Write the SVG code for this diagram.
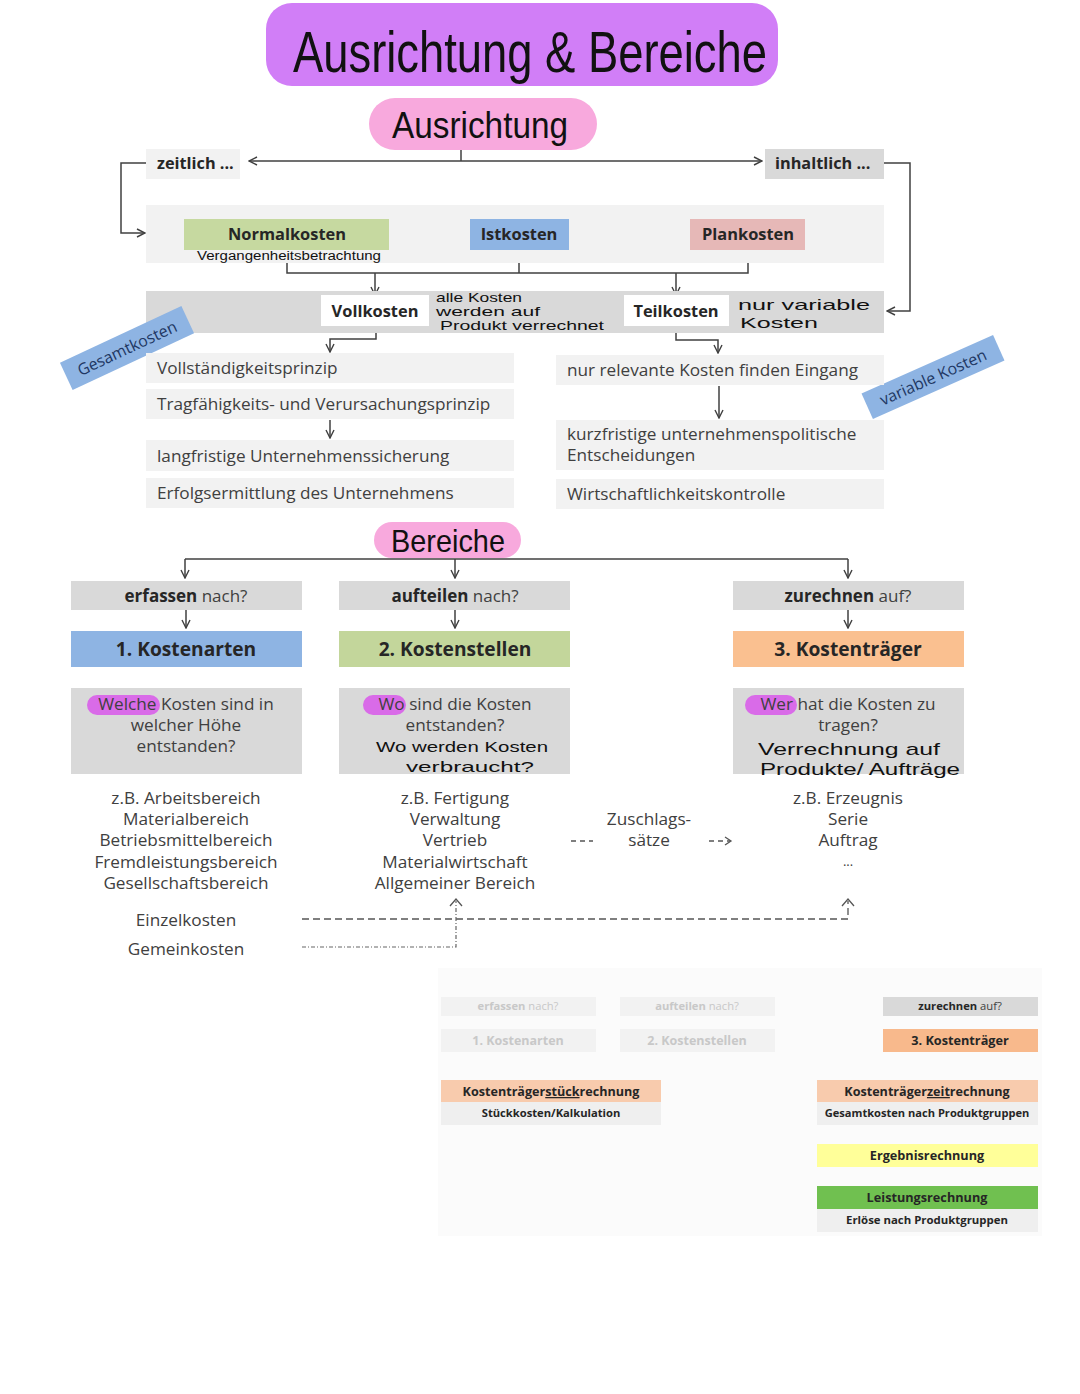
<svg xmlns="http://www.w3.org/2000/svg" width="1080" height="1394" viewBox="0 0 1080 1394">
<defs>
<marker id="ah" viewBox="0 0 10 10" refX="9" refY="5" markerWidth="10" markerHeight="10" markerUnits="userSpaceOnUse" orient="auto"><path d="M1,1 L9,5 L1,9" fill="none" stroke="#404040" stroke-width="1.4"/></marker>
<marker id="ahs" viewBox="0 0 10 10" refX="9" refY="5" markerWidth="8" markerHeight="8" markerUnits="userSpaceOnUse" orient="auto"><path d="M1,1 L9,5 L1,9" fill="none" stroke="#606060" stroke-width="1.4"/></marker>
</defs>
<style>
.t{font-family:"Open Sans","Liberation Sans",sans-serif;fill:#404040}
.b{font-weight:bold;fill:#262626}
.c{text-anchor:middle}
.hw{font-family:"Liberation Sans","DejaVu Sans",sans-serif;fill:#111}
.ln{fill:none;stroke:#404040;stroke-width:1.5}
.lg{fill:#f2f2f2}
.dg{fill:#d9d9d9}
.s{font-size:11.2px}
</style>
<rect width="1080" height="1394" fill="#ffffff"/>

<g id="title">
<rect x="266" y="3" width="512" height="83" rx="26" fill="#d17ef7"/>
<text class="hw" x="293" y="72" font-size="58" textLength="474" lengthAdjust="spacingAndGlyphs">Ausrichtung &amp; Bereiche</text>
</g>
<g id="ausrichtung">
<rect x="369" y="98" width="228" height="52" rx="26" fill="#f8a9dd"/>
<text class="hw" x="392" y="138" font-size="36" textLength="176" lengthAdjust="spacingAndGlyphs">Ausrichtung</text>
</g>

<g id="connectors">
<path class="ln" d="M461,150 V161"/>
<path class="ln" d="M461,161 H249" marker-end="url(#ah)"/>
<path class="ln" d="M461,161 H762" marker-end="url(#ah)"/>
<path class="ln" d="M146,163 H121 V233 H145" marker-end="url(#ah)"/>
<path class="ln" d="M884,163 H910 V311 H887" marker-end="url(#ah)"/>
<path class="ln" d="M287,250 V273 H748 V250 M519,250 V273"/>
<path class="ln" d="M375,273 V295" marker-end="url(#ah)"/>
<path class="ln" d="M676,273 V295" marker-end="url(#ah)"/>
<path class="ln" d="M376,326 V339 H330 V352" marker-end="url(#ah)"/>
<path class="ln" d="M676,326 V340 H718 V353" marker-end="url(#ah)"/>
<path class="ln" d="M330,420 V438" marker-end="url(#ah)"/>
<path class="ln" d="M719,386 V418" marker-end="url(#ah)"/>
<path class="ln" d="M185,559 H848"/>
<path class="ln" d="M185,559 V578" marker-end="url(#ah)"/>
<path class="ln" d="M455,559 V578" marker-end="url(#ah)"/>
<path class="ln" d="M848,559 V578" marker-end="url(#ah)"/>
<path class="ln" d="M186,610 V628" marker-end="url(#ah)"/>
<path class="ln" d="M455,610 V628" marker-end="url(#ah)"/>
<path class="ln" d="M848,610 V628" marker-end="url(#ah)"/>
<path fill="none" stroke="#555" stroke-width="1.3" stroke-dasharray="7,4" d="M302,919 H848 V901"/>
<path fill="none" stroke="#555" stroke-width="1.3" d="M842,906 L848,899 L854,906"/>
<path fill="none" stroke="#666" stroke-width="1.2" stroke-dasharray="4,2,1,2" d="M302,947 H456 V901"/>
<path fill="none" stroke="#555" stroke-width="1.3" d="M450,906 L456,899 L462,906"/>
<path fill="none" stroke="#555" stroke-width="1.3" stroke-dasharray="5,4" d="M571,841 H593"/>
<path fill="none" stroke="#555" stroke-width="1.3" stroke-dasharray="5,4" d="M709,841 H730"/>
<path fill="none" stroke="#555" stroke-width="1.3" d="M725,837 L731,841 L725,845"/>
<path fill="none" stroke="#606060" stroke-width="1.2" d="M518,983 H960 M659,979 V983"/>
<path fill="none" stroke="#606060" stroke-width="1.2" d="M518,983 V996" marker-end="url(#ahs)"/>
<path fill="none" stroke="#606060" stroke-width="1.2" d="M697,983 V996" marker-end="url(#ahs)"/>
<path fill="none" stroke="#606060" stroke-width="1.2" d="M960,983 V996" marker-end="url(#ahs)"/>
<path fill="none" stroke="#606060" stroke-width="1.2" d="M518,1017 V1028" marker-end="url(#ahs)"/>
<path fill="none" stroke="#606060" stroke-width="1.2" d="M697,1017 V1028" marker-end="url(#ahs)"/>
<path fill="none" stroke="#606060" stroke-width="1.2" d="M960,1017 V1028" marker-end="url(#ahs)"/>
<path fill="none" stroke="#606060" stroke-width="1.2" d="M960,1052 V1066 H551"/>
<path fill="none" stroke="#606060" stroke-width="1.2" d="M551,1066 V1079" marker-end="url(#ahs)"/>
<path fill="none" stroke="#606060" stroke-width="1.2" d="M927,1066 V1079" marker-end="url(#ahs)"/>
<path fill="none" stroke="#606060" stroke-width="1.2" d="M927,1126 V1143" marker-end="url(#ahs)"/>
<path fill="none" stroke="#606060" stroke-width="1.2" d="M927,1185 V1168" marker-end="url(#ahs)"/>
</g>

<g id="zeitlich"><rect class="lg" x="146" y="149" width="94" height="30"/><text class="t b" x="157" y="169" font-size="16.3">zeitlich ...</text></g>
<g id="inhaltlich"><rect class="dg" x="765" y="149" width="119" height="30"/><text class="t b" x="775" y="169" font-size="16.3">inhaltlich ...</text></g>

<g id="kostenband"><rect x="146" y="205" width="738" height="58" fill="#f2f2f2"/></g>
<g id="normalkosten"><rect x="184" y="219" width="205" height="31" fill="#c6d9a0"/><text class="t b c" x="287" y="240" font-size="16.4">Normalkosten</text>
<text class="hw" x="197" y="260" font-size="12" textLength="184" lengthAdjust="spacingAndGlyphs">Vergangenheitsbetrachtung</text></g>
<g id="istkosten"><rect x="470" y="219" width="99" height="31" fill="#8eb4e3"/><text class="t b c" x="519" y="240" font-size="16.4">Istkosten</text></g>
<g id="plankosten"><rect x="690" y="219" width="115" height="31" fill="#e6b8b7"/><text class="t b c" x="748" y="240" font-size="16.4">Plankosten</text></g>

<g id="vollteilband"><rect x="146" y="291" width="738" height="42" fill="#d9d9d9"/></g>
<g id="vollkosten"><rect x="321" y="295" width="108" height="31" fill="#ffffff"/><text class="t b c" x="375" y="317" font-size="16.4">Vollkosten</text>
<text class="hw" x="436" y="302" font-size="13" textLength="86" lengthAdjust="spacingAndGlyphs">alle Kosten</text>
<text class="hw" x="436" y="316" font-size="13" textLength="104" lengthAdjust="spacingAndGlyphs">werden auf</text>
<text class="hw" x="440" y="330" font-size="13" textLength="164" lengthAdjust="spacingAndGlyphs">Produkt verrechnet</text></g>
<g id="teilkosten"><rect x="624" y="295" width="105" height="31" fill="#ffffff"/><text class="t b c" x="676" y="317" font-size="16.4">Teilkosten</text>
<text class="hw" x="738" y="310" font-size="15" textLength="132" lengthAdjust="spacingAndGlyphs">nur variable</text>
<text class="hw" x="740" y="328" font-size="14" textLength="78" lengthAdjust="spacingAndGlyphs">Kosten</text></g>

<g id="gesamtkosten" transform="translate(127,348) rotate(-25)"><rect x="-67" y="-15" width="134" height="30" fill="#8eb4e3"/><text class="t c" x="0" y="6" font-size="16" style="fill:#1f3864">Gesamtkosten</text></g>
<g id="variablekosten" transform="translate(933,377) rotate(-24)"><rect x="-72" y="-14" width="144" height="28" fill="#8eb4e3"/><text class="t c" x="0" y="6" font-size="16" style="fill:#1f3864">variable Kosten</text></g>

<g id="vollstaendigkeit"><rect class="lg" x="146" y="353" width="368" height="30"/><text class="t" x="157" y="374" font-size="17.2">Vollständigkeitsprinzip</text></g>
<g id="tragfaehigkeit"><rect class="lg" x="146" y="389" width="368" height="30"/><text class="t" x="157" y="410" font-size="17.2">Tragfähigkeits- und Verursachungsprinzip</text></g>
<g id="langfristig"><rect class="lg" x="146" y="440" width="368" height="31"/><text class="t" x="157" y="462" font-size="17.2">langfristige Unternehmenssicherung</text></g>
<g id="erfolg"><rect class="lg" x="146" y="478" width="368" height="30"/><text class="t" x="157" y="499" font-size="17.2">Erfolgsermittlung des Unternehmens</text></g>

<g id="relevant"><rect class="lg" x="556" y="355" width="328" height="30"/><text class="t" x="567" y="376" font-size="17.2">nur relevante Kosten finden Eingang</text></g>
<g id="kurzfristig"><rect class="lg" x="556" y="420" width="328" height="50"/><text class="t" x="567" y="440" font-size="17.2">kurzfristige unternehmenspolitische</text><text class="t" x="567" y="461" font-size="17.2">Entscheidungen</text></g>
<g id="wirtschaftlichkeit"><rect class="lg" x="556" y="479" width="328" height="30"/><text class="t" x="567" y="500" font-size="17.2">Wirtschaftlichkeitskontrolle</text></g>

<g id="bereiche"><rect x="374" y="522" width="147" height="36" rx="18" fill="#f8a9dd"/><text class="hw" x="391" y="552" font-size="32" textLength="114" lengthAdjust="spacingAndGlyphs">Bereiche</text></g>

<g id="erfassen"><rect class="dg" x="71" y="581" width="231" height="29"/><text class="t c" x="186" y="602" font-size="17"><tspan class="b">erfassen</tspan> nach?</text></g>
<g id="aufteilen"><rect class="dg" x="339" y="581" width="231" height="29"/><text class="t c" x="455" y="602" font-size="17"><tspan class="b">aufteilen</tspan> nach?</text></g>
<g id="zurechnen"><rect class="dg" x="733" y="581" width="231" height="29"/><text class="t c" x="848" y="602" font-size="17"><tspan class="b">zurechnen</tspan> auf?</text></g>

<g id="kostenarten"><rect x="71" y="631" width="231" height="36" fill="#8eb4e3"/><text class="t b c" x="186" y="656" font-size="19.2">1. Kostenarten</text></g>
<g id="kostenstellen"><rect x="339" y="631" width="231" height="36" fill="#c3d69b"/><text class="t b c" x="455" y="656" font-size="19.2">2. Kostenstellen</text></g>
<g id="kostentraeger"><rect x="733" y="631" width="231" height="36" fill="#fac090"/><text class="t b c" x="848" y="656" font-size="19.2">3. Kostenträger</text></g>

<g id="frage1"><rect class="dg" x="71" y="688" width="231" height="86"/><rect x="87" y="695" width="73" height="20" rx="10" fill="#d96be8"/>
<text class="t c" x="186" y="710" font-size="17.2">Welche Kosten sind in</text><text class="t c" x="186" y="731" font-size="17.2">welcher Höhe</text><text class="t c" x="186" y="752" font-size="17.2">entstanden?</text></g>
<g id="frage2"><rect class="dg" x="339" y="688" width="231" height="86"/><rect x="363" y="695" width="43" height="20" rx="10" fill="#d96be8"/>
<text class="t c" x="455" y="710" font-size="17.2">Wo sind die Kosten</text><text class="t c" x="455" y="731" font-size="17.2">entstanden?</text>
<text class="hw" x="376" y="752" font-size="15" textLength="172" lengthAdjust="spacingAndGlyphs">Wo werden Kosten</text><text class="hw" x="406" y="772" font-size="15" textLength="128" lengthAdjust="spacingAndGlyphs">verbraucht?</text></g>
<g id="frage3"><rect class="dg" x="733" y="688" width="231" height="86"/><rect x="745" y="695" width="52" height="20" rx="10" fill="#d96be8"/>
<text class="t c" x="848" y="710" font-size="17.2">Wer hat die Kosten zu</text><text class="t c" x="848" y="731" font-size="17.2">tragen?</text>
<text class="hw" x="758" y="755" font-size="17" textLength="182" lengthAdjust="spacingAndGlyphs">Verrechnung auf</text><text class="hw" x="760" y="775" font-size="17" textLength="200" lengthAdjust="spacingAndGlyphs">Produkte/ Aufträge</text></g>

<g id="beispiele1"><text class="t c" font-size="17.2"><tspan x="186" y="804">z.B. Arbeitsbereich</tspan><tspan x="186" y="825">Materialbereich</tspan><tspan x="186" y="846">Betriebsmittelbereich</tspan><tspan x="186" y="868">Fremdleistungsbereich</tspan><tspan x="186" y="889">Gesellschaftsbereich</tspan></text></g>
<g id="beispiele2"><text class="t c" font-size="17.2"><tspan x="455" y="804">z.B. Fertigung</tspan><tspan x="455" y="825">Verwaltung</tspan><tspan x="455" y="846">Vertrieb</tspan><tspan x="455" y="868">Materialwirtschaft</tspan><tspan x="455" y="889">Allgemeiner Bereich</tspan></text></g>
<g id="zuschlag"><text class="t c" font-size="17.2"><tspan x="649" y="825">Zuschlags-</tspan><tspan x="649" y="846">sätze</tspan></text></g>
<g id="beispiele3"><text class="t c" font-size="17.2"><tspan x="848" y="804">z.B. Erzeugnis</tspan><tspan x="848" y="825">Serie</tspan><tspan x="848" y="846">Auftrag</tspan><tspan x="848" y="866" font-size="13">...</tspan></text></g>
<g id="einzelkosten"><text class="t c" x="186" y="926" font-size="17.2">Einzelkosten</text></g>
<g id="gemeinkosten"><text class="t c" x="186" y="955" font-size="17.2">Gemeinkosten</text></g>

<g id="unten-hintergrund"><rect x="438" y="968" width="604" height="268" fill="#fbfbfb"/></g>
<g id="u-erfassen"><rect x="441" y="997" width="155" height="19" fill="#f2f2f2"/><text class="t c s" x="518" y="1010" style="fill:#c8c8c8"><tspan font-weight="bold">erfassen</tspan> nach?</text></g>
<g id="u-aufteilen"><rect x="620" y="997" width="155" height="19" fill="#f2f2f2"/><text class="t c s" x="697" y="1010" style="fill:#c8c8c8"><tspan font-weight="bold">aufteilen</tspan> nach?</text></g>
<g id="u-zurechnen"><rect x="883" y="997" width="155" height="19" fill="#d9d9d9"/><text class="t c s" x="960" y="1010"><tspan class="b">zurechnen</tspan> auf?</text></g>
<g id="u-kostenarten"><rect x="441" y="1029" width="155" height="23" fill="#f2f2f2"/><text class="t c" x="518" y="1045" font-size="12.5" font-weight="bold" style="fill:#c8c8c8">1. Kostenarten</text></g>
<g id="u-kostenstellen"><rect x="620" y="1029" width="155" height="23" fill="#f2f2f2"/><text class="t c" x="697" y="1045" font-size="12.5" font-weight="bold" style="fill:#c8c8c8">2. Kostenstellen</text></g>
<g id="u-kostentraeger"><rect x="883" y="1029" width="155" height="23" fill="#f8b98c"/><text class="t b c" x="960" y="1045" font-size="12.7">3. Kostenträger</text></g>
<g id="stueckrechnung"><rect x="441" y="1080" width="220" height="22" fill="#f8cbad"/><text class="t b c" x="551" y="1096" font-size="12.6">Kostenträger<tspan text-decoration="underline">stück</tspan>rechnung</text>
<rect x="441" y="1102" width="220" height="23" fill="#efefef"/><text class="t b c s" x="551" y="1117">Stückkosten/Kalkulation</text></g>
<g id="zeitrechnung"><rect x="817" y="1080" width="221" height="22" fill="#f8cbad"/><text class="t b c" x="927" y="1096" font-size="12.6">Kostenträger<tspan text-decoration="underline">zeit</tspan>rechnung</text>
<rect x="817" y="1102" width="221" height="23" fill="#efefef"/><text class="t b c" x="927" y="1117" font-size="11.1">Gesamtkosten nach Produktgruppen</text></g>
<g id="ergebnisrechnung"><rect x="817" y="1144" width="221" height="23" fill="#ffff99"/><text class="t b c" x="927" y="1160" font-size="12.7">Ergebnisrechnung</text></g>
<g id="leistungsrechnung"><rect x="817" y="1186" width="221" height="23" fill="#70c050"/><text class="t b c" x="927" y="1202" font-size="12.7">Leistungsrechnung</text>
<rect x="817" y="1209" width="221" height="23" fill="#efefef"/><text class="t b c" x="927" y="1224" font-size="11.4">Erlöse nach Produktgruppen</text></g>
</svg>
